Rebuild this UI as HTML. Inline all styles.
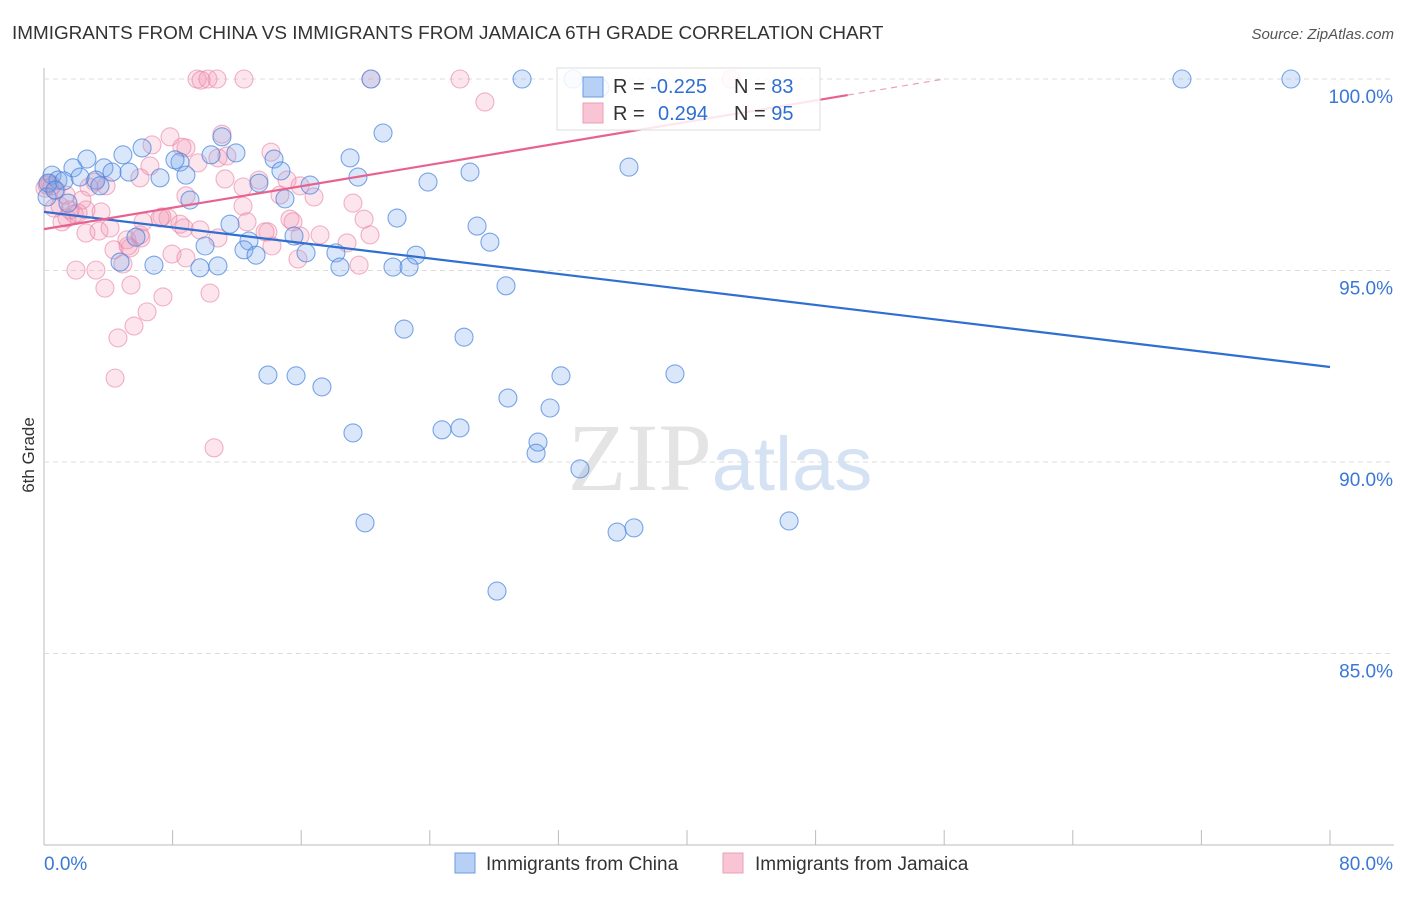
<!DOCTYPE html>
<html><head><meta charset="utf-8"><style>
body{margin:0;background:#fff;font-family:"Liberation Sans",sans-serif}
</style></head><body>
<svg id="chart" width="1406" height="892" xmlns="http://www.w3.org/2000/svg" font-family="Liberation Sans, sans-serif">
<text x="12" y="39" font-size="18.9" fill="#333">IMMIGRANTS FROM CHINA VS IMMIGRANTS FROM JAMAICA 6TH GRADE CORRELATION CHART</text>
<text x="1394" y="39" font-size="15" fill="#555" font-style="italic" text-anchor="end">Source: ZipAtlas.com</text>
<text transform="translate(34,455) rotate(-90)" font-size="17" fill="#333" text-anchor="middle">6th Grade</text>
<g id="grid"></g>
<text x="720" y="490" font-size="96" text-anchor="middle" fill="#e4e4e4" font-family="Liberation Serif, serif">ZIP<tspan fill="#d5e2f3" font-family="Liberation Sans, sans-serif" font-size="76">atlas</tspan></text>
<g id="marks"></g>
<g id="lines"></g>
<g>
<rect x="557" y="68" width="263" height="62" fill="rgba(255,255,255,0.85)" stroke="#ddd"/>
<rect x="583" y="77" width="20" height="20" fill="#b7d0f5" stroke="#6c9be2"/>
<rect x="583" y="103" width="20" height="20" fill="#f9c4d4" stroke="#eaa0b9"/>
<text x="613" y="93" font-size="20" fill="#333">R = <tspan fill="#2f6fd0">-0.225</tspan></text>
<text x="734" y="93" font-size="20" fill="#333">N = <tspan fill="#2f6fd0">83</tspan></text>
<text x="613" y="120" font-size="20" fill="#333">R = <tspan fill="#2f6fd0" x="658">0.294</tspan></text>
<text x="734" y="120" font-size="20" fill="#333">N = <tspan fill="#2f6fd0">95</tspan></text>
</g>
<g>
<rect x="455" y="853" width="20" height="20" fill="#b7d0f5" stroke="#6c9be2"/>
<text x="486" y="870" font-size="19" fill="#333">Immigrants from China</text>
<rect x="723" y="853" width="20" height="20" fill="#f9c4d4" stroke="#eaa0b9"/>
<text x="755" y="870" font-size="19" fill="#333">Immigrants from Jamaica</text>
</g>
</svg>
<script>
const xTicks=[0,8,16,24,32,40,48,56,64,72,80];
const yTicks=[100,95,90,85];
const yTickLabels=["100.0%","95.0%","90.0%","85.0%"];
const xLabels=["0.0%","80.0%"];
const chinaPx=[[573,79],[522,79],[1182,79],[1291,79],[371,79],[600,88],[383,133],[222,137],[629,167],[142,148],[123,155],[87,159],[73,168],[104,168],[211,155],[236,153],[180,162],[175,160],[350,158],[274,159],[470,172],[428,182],[358,177],[310,185],[259,183],[281,171],[186,175],[160,178],[129,172],[112,172],[52,175],[58,180],[48,183],[64,181],[80,177],[96,180],[100,186],[190,200],[285,199],[68,203],[397,218],[230,224],[477,226],[294,236],[249,241],[490,242],[205,246],[244,250],[256,255],[306,253],[336,253],[416,255],[120,262],[154,265],[200,268],[218,266],[340,267],[393,267],[409,267],[506,286],[404,329],[464,337],[268,375],[296,376],[322,387],[561,376],[675,374],[508,398],[550,408],[353,433],[442,430],[460,428],[538,442],[536,453],[580,469],[789,521],[365,523],[617,532],[634,528],[497,591],[136,237],[47,197],[55,190]];
const jamaicaPx=[[197,79],[208,79],[217,79],[201,80],[244,79],[460,79],[371,79],[731,79],[485,102],[222,134],[152,145],[170,137],[186,148],[182,147],[218,158],[227,156],[271,152],[198,163],[150,166],[140,178],[106,186],[95,182],[186,196],[259,180],[287,180],[314,197],[353,203],[364,219],[290,219],[243,206],[247,222],[268,232],[370,235],[300,236],[320,235],[347,243],[359,265],[298,259],[272,246],[218,238],[168,218],[184,228],[162,217],[143,222],[127,240],[130,248],[114,250],[123,264],[86,233],[99,231],[86,210],[74,214],[62,222],[67,218],[60,206],[45,188],[50,183],[56,190],[52,186],[70,210],[78,213],[101,212],[160,218],[76,270],[96,270],[105,288],[131,285],[163,297],[210,293],[147,312],[134,326],[118,338],[115,378],[214,448],[172,254],[186,258],[141,238],[200,230],[243,187],[225,179],[280,195],[293,222],[265,232],[300,186],[180,224],[128,246],[89,187],[47,185],[54,208],[66,195],[82,200],[110,228],[140,235]];
const chinaX=chinaPx.map(p=>+((p[0]-44)/1286*80).toFixed(2));
const chinaY=chinaPx.map(p=>+(100-(p[1]-79)/38.3).toFixed(2));
const jamaicaX=jamaicaPx.map(p=>+((p[0]-44)/1286*80).toFixed(2));
const jamaicaY=jamaicaPx.map(p=>+(100-(p[1]-79)/38.3).toFixed(2));
const chinaTrend=[96.53,92.48];
const jamaicaTrend=[96.08,99.58];
const NS="http://www.w3.org/2000/svg";
const X=v=>44+v/80*1286, Y=v=>79+(100-v)*38.3;
function mk(t,a,parent){const e=document.createElementNS(NS,t);for(const k in a)e.setAttribute(k,a[k]);parent.appendChild(e);return e;}
const grid=document.getElementById('grid'),marks=document.getElementById('marks'),lines=document.getElementById('lines');
let ax=mk('line',{x1:44,y1:68,x2:44,y2:845,stroke:'#bbb'},grid);


let bx=mk('line',{x1:44,y1:845,x2:1394,y2:845,stroke:'#bbb'},grid);


yTicks.forEach((t,i)=>{
 let g=mk('line',{x1:44,y1:Y(t),x2:1394,y2:Y(t),stroke:'#ddd','stroke-dasharray':'5,4'},grid);
 
 
 let l=mk('text',{x:1393,y:Y(t)+24,'font-size':19,fill:'#3a78d6','text-anchor':'end'},grid);l.textContent=yTickLabels[i];
 
 
});
xTicks.forEach(t=>{
 let g=mk('line',{x1:X(t),y1:830,x2:X(t),y2:845,stroke:'#bbb'},grid);
 
 
});
let l0=mk('text',{x:44,y:870,'font-size':19,fill:'#3a78d6'},grid);l0.textContent=xLabels[0];


let l1=mk('text',{x:1393,y:870,'font-size':19,fill:'#3a78d6','text-anchor':'end'},grid);l1.textContent=xLabels[1];


jamaicaX.forEach((x,i)=>{
 let c=mk('circle',{cx:X(x),cy:Y(jamaicaY[i]),r:9,fill:'rgba(242,150,180,0.25)',stroke:'rgba(232,130,165,0.6)','stroke-width':1.1},marks);
 
 
});
chinaX.forEach((x,i)=>{
 let c=mk('circle',{cx:X(x),cy:Y(chinaY[i]),r:9,fill:'rgba(120,165,235,0.27)',stroke:'rgba(70,130,220,0.7)','stroke-width':1.1},marks);
 
 
});
let bl=mk('line',{x1:X(0),y1:Y(chinaTrend[0]),x2:X(80),y2:Y(chinaTrend[1]),stroke:'#2f6fd0','stroke-width':2.2},lines);


let pl=mk('line',{x1:X(0),y1:Y(jamaicaTrend[0]),x2:X(50),y2:Y(jamaicaTrend[1]),stroke:'#e8628f','stroke-width':2.2},lines);


const slope=(jamaicaTrend[1]-jamaicaTrend[0])/50, xEnd=(100-jamaicaTrend[0])/slope;
let pd=mk('line',{x1:X(50),y1:Y(jamaicaTrend[1]),x2:X(xEnd),y2:Y(100),stroke:'#eaa0b9','stroke-width':1.2,'stroke-dasharray':'6,5'},lines);


</script>
</body></html>
